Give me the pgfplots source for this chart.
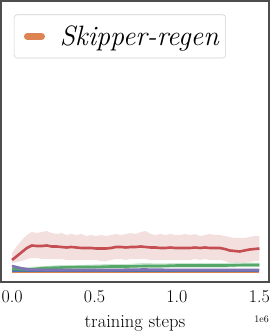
\documentclass[border=0pt]{standalone}
\usepackage{pgfplots}
\usepgfplotslibrary{fillbetween}
\usetikzlibrary{calc}
\pgfplotsset{compat=1.18}
\definecolor{sred}{HTML}{C44E52}
\definecolor{sgreen}{HTML}{55A868}
\definecolor{spurple}{HTML}{8172B3}
\definecolor{sblue}{HTML}{4C72B0}
\definecolor{sorange}{HTML}{DD8452}
\definecolor{frame}{HTML}{4D4D4D}

\pgfplotstableread{
x m u l
0.00 22 29 19
0.03 26 36 20
0.06 30 42 21
0.09 34 47 23
0.12 36.5 50 24
0.15 36 49 24
0.18 36 50 23
0.21 36.5 51 23
0.24 35.5 49 23
0.27 35.5 48 23
0.30 35 49 23
0.33 34.5 47 22
0.36 35 48 22
0.39 34.5 47 22
0.42 34 48 22
0.45 34 46 22
0.48 34 47 22
0.51 33.5 46 22
0.54 33.5 47 21
0.57 33.5 46 21
0.60 34 47 22
0.63 35 48 23
0.66 35 47 23
0.69 34.5 48 22
0.72 35 49 23
0.75 35 48 23
0.78 35.5 50 23
0.81 35 51 23
0.84 34.5 48 22
0.87 34.5 47 22
0.90 34 48 22
0.93 34 47 22
0.96 34.5 48 22
0.99 34 47 22
1.02 34 47 22
1.05 34 48 22
1.08 34 47 22
1.11 34.5 48 23
1.14 34 46 22
1.17 34.5 47 23
1.20 34 48 22
1.23 34 47 22
1.26 34 47 22
1.29 33 46 21
1.32 31.5 45 19
1.35 31 44 19
1.38 30.5 44 18
1.41 31.5 44 19
1.44 32.5 45 20
1.47 33 46 21
1.50 33.5 46 21
}\redtab

\pgfplotstableread{
x m u l
0.00 13 15 11
0.10 12.5 15 11
0.20 14 16 12
0.30 14.5 17 12.5
0.40 15 17 13
0.50 15 17.5 13
0.60 15.5 18 13.5
0.70 15.5 18 13.5
0.80 16 19 14
0.90 16 18.5 14
1.00 16.5 19 14.5
1.10 16.5 19 14.5
1.20 16.5 19 14.5
1.30 16.5 19 14.5
1.40 17 19.5 15
1.50 17 19.5 15
}\greentab

\pgfplotstableread{
x m
0.00 16
0.05 14
0.10 12.5
0.20 12
0.40 12
0.60 12
0.80 12.5
1.00 12
1.20 12
1.40 12
1.50 12
}\purpletab

\pgfplotstableread{
x m
0.00 11
0.50 11
1.00 11
1.50 11
}\bluetab

\pgfplotstableread{
x m
0.00 10.5
0.50 10.5
1.00 10.5
1.50 10.5
}\orangetab

\begin{document}
\begin{tikzpicture}
\begin{axis}[
  name=ax,
  scale only axis,
  width=268pt, height=281pt,
  xmin=-0.067, xmax=1.558,
  ymin=0, ymax=281,
  axis line style={frame, line width=1.2pt},
  xtick={0,0.5,1,1.5},
  xticklabels={0.0,0.5,1.0,1.5},
  ytick=\empty,
  major tick length=0pt,
  xticklabel style={font=\fontsize{18}{20}\selectfont, yshift=-5pt},
  xlabel={training steps},
  xlabel style={font=\fontsize{18.5}{20}\selectfont, yshift=-6pt},
  clip=false,
  legend style={at={(rel axis cs:0.048,0.952)}, anchor=north west,
    draw=black!18, rounded corners=3pt, line width=0.6pt,
    font=\fontsize{28}{30}\selectfont\itshape,
    inner xsep=5pt, inner ysep=9pt},
  legend cell align=left,
  legend image code/.code={\draw[sorange, line width=7pt, line cap=round] (0pt,0pt) -- (14pt,0pt); \path (-7pt,0pt) (29pt,0pt);},
]
\addplot[name path=ru, draw=none, forget plot] table[x=x,y=u] {\redtab};
\addplot[name path=rl, draw=none, forget plot] table[x=x,y=l] {\redtab};
\addplot[sred!20, opacity=0.9, forget plot] fill between[of=ru and rl];
\addplot[name path=gu, draw=none, forget plot] table[x=x,y=u] {\greentab};
\addplot[name path=gl, draw=none, forget plot] table[x=x,y=l] {\greentab};
\addplot[sgreen!30, forget plot] fill between[of=gu and gl];
\addplot[sorange, line width=2.6pt] table[x=x,y=m] {\orangetab};
\addlegendentry{Skipper-regen}
\addplot[sblue, line width=2.6pt, forget plot] table[x=x,y=m] {\bluetab};
\addplot[sgreen, line width=2.6pt, forget plot] table[x=x,y=m] {\greentab};
\addplot[spurple, line width=2.6pt, forget plot] table[x=x,y=m] {\purpletab};
\addplot[sred, line width=2.6pt, forget plot] table[x=x,y=m] {\redtab};
\coordinate (bl) at (rel axis cs:0,0);
\coordinate (tr) at (rel axis cs:1,1);
\end{axis}
\node[anchor=base east, font=\fontsize{10}{12}\selectfont, inner sep=0pt] at ($(tr|-bl)+(0pt,-40pt)$) {1e6};
\pgfresetboundingbox
\path[use as bounding box] ($(bl)+(-1pt,-53pt)$) rectangle ($(tr)+(3pt,1pt)$);
\end{tikzpicture}
\end{document}
